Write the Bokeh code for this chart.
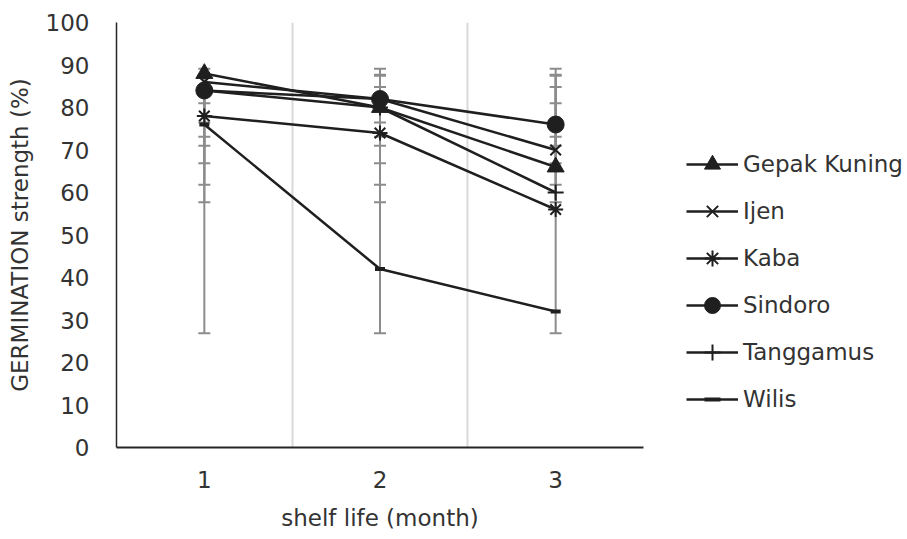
from bokeh.plotting import figure
from bokeh.models import (ColumnDataSource, Whisker, TeeHead, FixedTicker,
                          Legend, LegendItem, Range1d)
from bokeh.embed import file_html
from bokeh.resources import INLINE

# ---- data ----
months = [1, 2, 3]
series_names = ["Gepak Kuning", "Ijen", "Kaba", "Sindoro", "Tanggamus", "Wilis"]
gepak_kuning = [88, 80, 66]
ijen = [86, 82, 70]
kaba = [78, 74, 56]
sindoro = [84, 82, 76]
tanggamus = [84, 80, 60]
wilis = [76, 42, 32]
# error bar extents (lower, upper)
err_lower = [66.9, 71.0, 57.7, 76.5, 61.8, 26.9]
err_upper = [89.1, 87.7, 81.0, 84.8, 87.5, 73.1]
y_ticks = [0, 10, 20, 30, 40, 50, 60, 70, 80, 90, 100]

values = [gepak_kuning, ijen, kaba, sindoro, tanggamus, wilis]
markers = ["triangle", "x", "asterisk", "circle", "cross", "dash"]
msizes = [17, 15, 15, 17, 16, 10]
mwidths = [1, 2, 2, 1, 2, 4]

FONT = "DejaVu Sans"
TXT = "#333333"
LINE = "#1f1f1f"

p = figure(frame_width=527, frame_height=425, output_backend="svg", toolbar_location=None,
           x_range=Range1d(0.5, 3.5), y_range=Range1d(0, 100),
           min_border_left=116, min_border_right=10, min_border_top=22,
           min_border_bottom=80)
p.outline_line_color = None
p.background_fill_color = "white"

# grid
p.ygrid.grid_line_color = None
p.xgrid.ticker = FixedTicker(ticks=[1.5, 2.5, 3.5])
p.xgrid.grid_line_color = "#d9d9d9"
p.xgrid.grid_line_width = 2

# axes
p.xaxis.ticker = FixedTicker(ticks=months)
p.yaxis.ticker = FixedTicker(ticks=y_ticks)
for ax in (p.xaxis[0], p.yaxis[0]):
    ax.major_tick_line_color = None
    ax.minor_tick_line_color = None
    ax.major_tick_out = 0
    ax.major_tick_in = 0
    ax.axis_line_color = "#262626"
    ax.major_label_text_font = FONT
    ax.major_label_text_font_size = "23px"
    ax.major_label_text_color = TXT
    ax.axis_label_text_font = FONT
    ax.axis_label_text_font_size = "23px"
    ax.axis_label_text_color = TXT
    ax.axis_label_text_font_style = "normal"
p.xaxis.axis_line_width = 2
p.yaxis.axis_line_width = 1.5
p.yaxis.major_label_standoff = 27
p.yaxis.axis_label_standoff = 10
p.xaxis.major_label_standoff = 23
p.xaxis.axis_label_standoff = 14
p.xaxis.axis_label = "shelf life (month)"
p.yaxis.axis_label = "GERMINATION strength (%)"

# error bars
for lo, hi in zip(err_lower, err_upper):
    src = ColumnDataSource(dict(x=months, lower=[lo] * len(months), upper=[hi] * len(months)))
    w = Whisker(source=src, base="x", lower="lower", upper="upper",
                line_color="#8c8c8c", line_width=2, level="underlay",
                upper_head=TeeHead(size=12, line_color="#8c8c8c", line_width=2),
                lower_head=TeeHead(size=12, line_color="#8c8c8c", line_width=2))
    p.add_layout(w)

items = []
for name, vals, mk, ms, mw in zip(series_names, values, markers, msizes, mwidths):
    src = ColumnDataSource(dict(x=months, y=vals))
    lr = p.line("x", "y", source=src, line_color=LINE, line_width=2.5)
    sr = p.scatter("x", "y", source=src, marker=mk, size=ms, line_color=LINE,
                   fill_color=LINE, line_width=mw)
    items.append(LegendItem(label=name, renderers=[lr, sr]))

legend = Legend(items=items, location=(43, 28), padding=0, margin=0,
                spacing=7, glyph_width=52, glyph_height=40, label_height=40,
                label_standoff=5, label_text_font=FONT,
                label_text_font_size="23px", label_text_color=TXT,
                border_line_color=None, background_fill_alpha=0)
p.add_layout(legend, "right")

open("out.html", "w").write(file_html(p, INLINE))
